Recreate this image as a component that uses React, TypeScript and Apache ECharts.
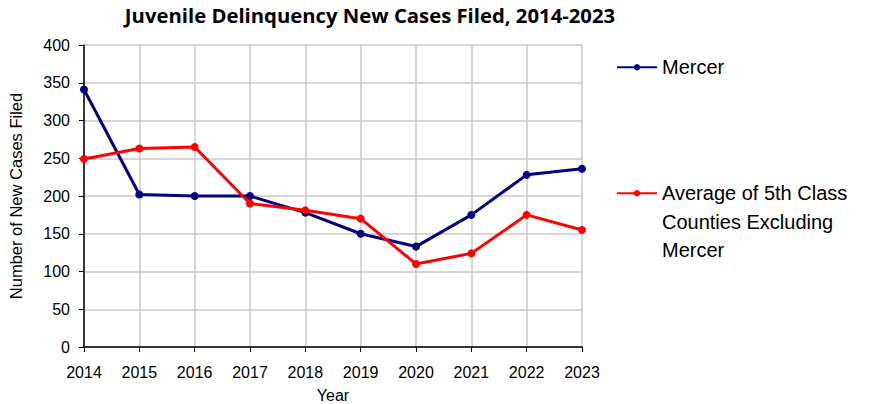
import React, { useEffect, useRef } from "react";
import * as echarts from "echarts";

const years = ["2014", "2015", "2016", "2017", "2018", "2019", "2020", "2021", "2022", "2023"];
const mercer = [341, 202, 200, 200, 178, 150, 133, 175, 228, 236];
const avgFifthClass = [249, 263, 265, 190, 181, 170, 110, 124, 175, 155];
const seriesNames = ["Mercer", "Average of 5th Class Counties Excluding Mercer"];

export default function App() {
  const ref = useRef<HTMLDivElement>(null);
  useEffect(() => {
    if (!ref.current) return;
    const chart = echarts.init(ref.current, undefined, { renderer: "svg" });
    const axisFont = { fontFamily: "Liberation Sans", fontSize: 16, color: "#000" };
    const legendText = { fontFamily: "Liberation Sans", fontSize: 20, color: "#000", lineHeight: 28.5 };
    chart.setOption({
      animation: false,
      backgroundColor: "#fff",
      title: {
        text: "Juvenile Delinquency New Cases Filed, 2014-2023",
        left: 365,
        textAlign: "center",
        top: 0,
        textStyle: { fontFamily: "Open Sans", fontWeight: "bold", fontSize: 20.3, color: "#000" },
      },
      grid: { left: 84, right: 296, top: 45, bottom: 57, containLabel: false, outerBoundsMode: "none" },
      legend: [
        {
          data: [seriesNames[0]],
          left: 611,
          top: 48,
          itemWidth: 40,
          itemHeight: 8,
          itemGap: 6,
          textStyle: legendText,
        },
        {
          data: [seriesNames[1]],
          left: 611,
          top: 117,
          itemWidth: 40,
          itemHeight: 8,
          formatter: () => "\n\nAverage of 5th Class\nCounties Excluding\nMercer",
          textStyle: legendText,
        },
      ],
      xAxis: {
        type: "category",
        data: years,
        boundaryGap: false,
        name: "Year",
        nameLocation: "middle",
        nameGap: 40,
        nameTextStyle: axisFont,
        axisLine: { lineStyle: { color: "#000", width: 1.5 } },
        axisTick: { show: true, length: 5, lineStyle: { color: "#000" } },
        axisLabel: { ...axisFont, margin: 17 },
        splitLine: { show: true, lineStyle: { color: "#c8c8c8", width: 1.5 } },
      },
      yAxis: {
        type: "value",
        min: 0,
        max: 400,
        interval: 50,
        name: "Number of New Cases Filed",
        nameLocation: "middle",
        nameGap: 60,
        nameTextStyle: { ...axisFont, fontSize: 16.5 },
        axisLine: { show: true, lineStyle: { color: "#000", width: 1.5 } },
        axisTick: { show: true, length: 5, lineStyle: { color: "#000" } },
        axisLabel: { ...axisFont, margin: 14 },
        splitLine: { show: true, lineStyle: { color: "#c8c8c8", width: 1.5 } },
      },
      series: [
        {
          name: seriesNames[0],
          type: "line",
          data: mercer,
          color: "#000080",
          lineStyle: { width: 3, color: "#000080" },
          itemStyle: { color: "#000080" },
          symbol: "circle",
          symbolSize: 8,
        },
        {
          name: seriesNames[1],
          type: "line",
          data: avgFifthClass,
          color: "#ff0000",
          lineStyle: { width: 3, color: "#ff0000" },
          itemStyle: { color: "#ff0000" },
          symbol: "circle",
          symbolSize: 8,
        },
      ],
    });
    return () => chart.dispose();
  }, []);
  return <div ref={ref} style={{ width: 878, height: 404, position: "absolute", left: 0, top: 0 }} />;
}
